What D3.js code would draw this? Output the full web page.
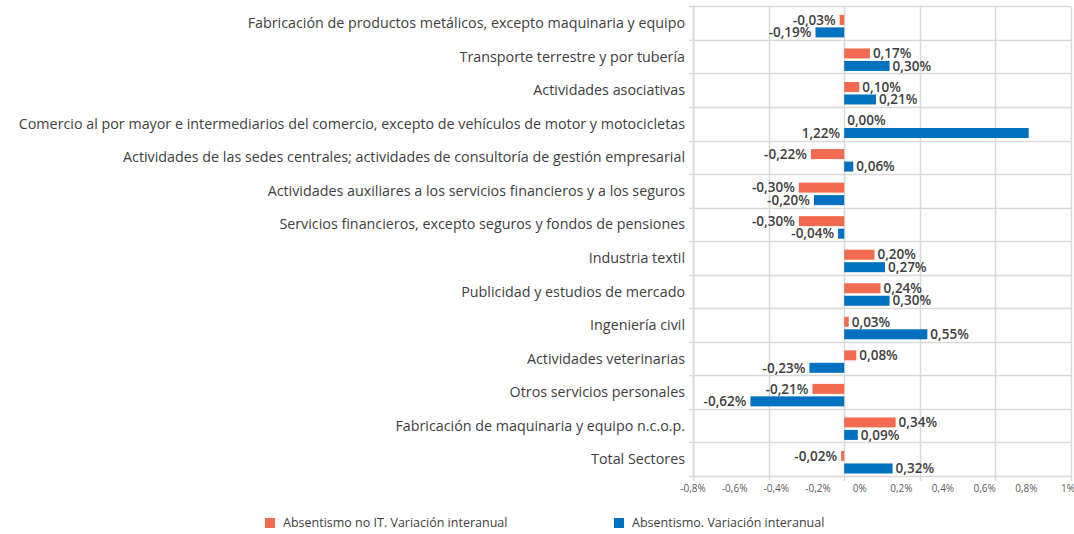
<!DOCTYPE html>
<html><head><meta charset="utf-8">
<script src="https://cdn.jsdelivr.net/npm/d3@7"></script>
<style>body{margin:0;background:#fff}svg{display:block}text{font-family:"Open Sans",sans-serif}</style>
</head><body><svg id="c" width="1074" height="534"></svg>
<script>
const categories = [
  "Fabricación de productos metálicos, excepto maquinaria y equipo",
  "Transporte terrestre y por tubería",
  "Actividades asociativas",
  "Comercio al por mayor e intermediarios del comercio, excepto de vehículos de motor y motocicletas",
  "Actividades de las sedes centrales; actividades de consultoría de gestión empresarial",
  "Actividades auxiliares a los servicios financieros y a los seguros",
  "Servicios financieros, excepto seguros y fondos de pensiones",
  "Industria textil",
  "Publicidad y estudios de mercado",
  "Ingeniería civil",
  "Actividades veterinarias",
  "Otros servicios personales",
  "Fabricación de maquinaria y equipo n.c.o.p.",
  "Total Sectores"
];
const absentismoNoIT = [-0.03, 0.17, 0.10, 0.00, -0.22, -0.30, -0.30, 0.20, 0.24, 0.03, 0.08, -0.21, 0.34, -0.02];
const absentismo = [-0.19, 0.30, 0.21, 1.22, 0.06, -0.20, -0.04, 0.27, 0.30, 0.55, -0.23, -0.62, 0.09, 0.32];
const seriesNames = ["Absentismo no IT. Variación interanual", "Absentismo. Variación interanual"];
const tickLabels = [-0.8, -0.6, -0.4, -0.2, 0, 0.2, 0.4, 0.6, 0.8, 1];
const gridValues = [-1, -0.5, 0, 0.5, 1, 1.5];
const colors = ["#F26B50", "#0070C0"];

const svg = d3.select("#c");
const L = 693, R = 1071, T = 6.4, B = 476;
const x = d3.scaleLinear().domain([-1, 1.5]).range([L, R]);
const xLab = d3.scaleLinear().domain([-0.8, 1]).range([L, 1068]);
const y = d3.scaleBand().domain(categories).range([T, B]).paddingInner(0);
const fix = s => s.replace(/\u2212/g, "-").replace(".", ",");
const fmt = v => fix(d3.format(".2f")(v)) + "%";

// grid
svg.append("g").selectAll("line").data(gridValues).join("line")
  .attr("x1", d => Math.round(x(d)) + 0.5).attr("x2", d => Math.round(x(d)) + 0.5)
  .attr("y1", T).attr("y2", B + 5)
  .attr("stroke", "#d9d9d9").attr("stroke-width", 1.5);
const rowEdges = categories.map(c => y(c)).concat([B]);
svg.append("g").selectAll("line").data(rowEdges).join("line")
  .attr("x1", L - 4).attr("x2", R)
  .attr("y1", d => Math.round(d) + 0.5).attr("y2", d => Math.round(d) + 0.5)
  .attr("stroke", "#d9d9d9").attr("stroke-width", 1.5);
svg.append("line").attr("x1", L + 0.5).attr("x2", L + 0.5).attr("y1", T).attr("y2", B)
  .attr("stroke", "#d9d9d9").attr("stroke-width", 1.5);

// bars
const series = [absentismoNoIT, absentismo];
const offs = [8.5, 21];
const bh = 10;
series.forEach((vals, si) => {
  const g = svg.append("g");
  g.selectAll("rect").data(vals).join("rect")
    .attr("x", d => x(Math.min(0, d)))
    .attr("width", d => Math.abs(x(d) - x(0)))
    .attr("y", (d, i) => y(categories[i]) + offs[si])
    .attr("height", bh)
    .attr("fill", colors[si]);
  g.selectAll("text").data(vals).join("text")
    .text(d => fmt(d))
    .attr("font-size", 13.5).attr("font-weight", 600).attr("fill", "#404040")
    .attr("y", (d, i) => y(categories[i]) + offs[si] + bh / 2)
    .attr("dy", "0.35em")
    .each(function(d) {
      const w = this.getComputedTextLength();
      const sel = d3.select(this);
      if (d < 0 || x(d) + 4 + w > R - 8) {
        sel.attr("x", x(Math.min(0, d)) - 4).attr("text-anchor", "end");
      } else {
        sel.attr("x", x(d) + 3).attr("text-anchor", "start");
      }
    });
});

// category labels
svg.append("g").selectAll("text").data(categories).join("text")
  .text(d => d)
  .attr("x", 685).attr("y", d => y(d) + y.bandwidth() / 2)
  .attr("dy", "0.35em").attr("text-anchor", "end")
  .attr("font-size", 14.3).attr("fill", "#404040");

// bottom tick labels
svg.append("g").selectAll("text").data(tickLabels).join("text")
  .text(d => fix(d3.format(".1~f")(d)) + "%")
  .attr("x", d => xLab(d)).attr("y", 488).attr("dy", "0.35em")
  .attr("text-anchor", "middle").attr("font-size", 10).attr("fill", "#595959");

// legend
const lg = [{x: 265}, {x: 614}];
lg.forEach((p, i) => {
  svg.append("rect").attr("x", p.x).attr("y", 518).attr("width", 10).attr("height", 10).attr("fill", colors[i]);
  svg.append("text").text(seriesNames[i]).attr("x", p.x + 18).attr("y", 523).attr("dy", "0.35em")
    .attr("font-size", 12.5).attr("fill", "#404040");
});
</script></body></html>
